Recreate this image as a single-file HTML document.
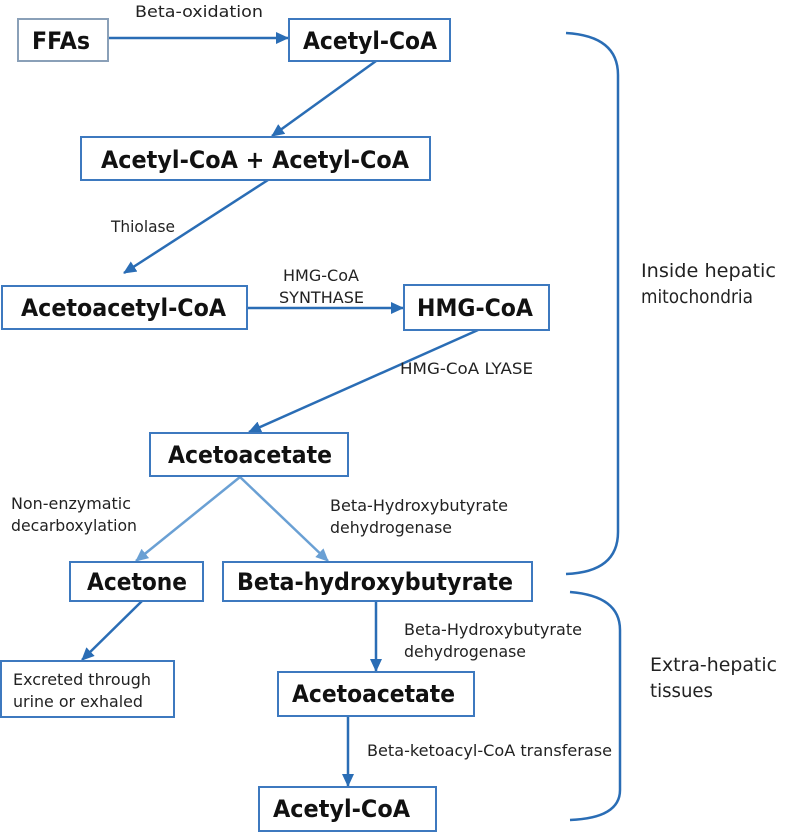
<!DOCTYPE html>
<html><head><meta charset="utf-8"><style>
html,body{margin:0;padding:0;background:#fff;}
svg{display:block;}
.b{font-family:"DejaVu Sans","Liberation Sans",sans-serif;font-weight:bold;font-size:24px;fill:#111;}
.l{font-family:"DejaVu Sans","Liberation Sans",sans-serif;font-size:16px;fill:#222;}
.l2{font-family:"DejaVu Sans","Liberation Sans",sans-serif;font-size:19px;fill:#222;}
rect{fill:#fff;stroke:#3d79bf;stroke-width:2;}
.ln{stroke:#2a6db5;stroke-width:2.5;fill:none;}
.lt{stroke:#6aa0d4;stroke-width:2.5;fill:none;}
</style></head><body>
<svg width="785" height="833" viewBox="0 0 785 833" xmlns="http://www.w3.org/2000/svg">
<defs>
<marker id="a" markerWidth="14" markerHeight="12" refX="12" refY="6" orient="auto" markerUnits="userSpaceOnUse"><path d="M0,0 L13,6 L0,12 z" fill="#2a6db5"/></marker>
<marker id="a2" markerWidth="14" markerHeight="12" refX="12" refY="6" orient="auto" markerUnits="userSpaceOnUse"><path d="M0,0 L13,6 L0,12 z" fill="#6aa0d4"/></marker>
</defs>
<line class="ln" x1="108" y1="38" x2="288" y2="38" marker-end="url(#a)"/>
<line class="ln" x1="376" y1="61" x2="272" y2="136" marker-end="url(#a)"/>
<line class="ln" x1="268" y1="180" x2="124" y2="273" marker-end="url(#a)"/>
<line class="ln" x1="247" y1="308" x2="403" y2="308" marker-end="url(#a)"/>
<line class="ln" x1="478" y1="330" x2="249" y2="432" marker-end="url(#a)"/>
<line class="lt" x1="240" y1="477" x2="136" y2="561" marker-end="url(#a2)"/>
<line class="lt" x1="240" y1="477" x2="328" y2="561" marker-end="url(#a2)"/>
<line class="ln" x1="142" y1="601" x2="82" y2="660" marker-end="url(#a)"/>
<line class="ln" x1="376" y1="601" x2="376" y2="671" marker-end="url(#a)"/>
<line class="ln" x1="348" y1="716" x2="348" y2="786" marker-end="url(#a)"/>
<path class="ln" d="M566,33 Q618,36 618,75 L618,532 Q618,572 566,574" stroke-width="4"/>
<path class="ln" d="M570,592 Q620,596 620,630 L620,790 Q620,818 570,820" stroke-width="4"/>
<rect x="18" y="19" width="90" height="42" style="stroke:#8aa0b8"/>
<text class="b" x="32" y="49" textLength="58" lengthAdjust="spacingAndGlyphs">FFAs</text>
<rect x="289" y="19" width="161" height="42"/>
<text class="b" x="303" y="49" textLength="134" lengthAdjust="spacingAndGlyphs">Acetyl-CoA</text>
<rect x="81" y="137" width="349" height="43"/>
<text class="b" x="101" y="168" textLength="308" lengthAdjust="spacingAndGlyphs">Acetyl-CoA + Acetyl-CoA</text>
<rect x="2" y="286" width="245" height="43"/>
<text class="b" x="21" y="316" textLength="205" lengthAdjust="spacingAndGlyphs">Acetoacetyl-CoA</text>
<rect x="404" y="285" width="145" height="45"/>
<text class="b" x="417" y="316" textLength="116" lengthAdjust="spacingAndGlyphs">HMG-CoA</text>
<rect x="150" y="433" width="198" height="43"/>
<text class="b" x="168" y="463" textLength="164" lengthAdjust="spacingAndGlyphs">Acetoacetate</text>
<rect x="70" y="562" width="133" height="39"/>
<text class="b" x="87" y="590" textLength="100" lengthAdjust="spacingAndGlyphs">Acetone</text>
<rect x="223" y="562" width="309" height="39"/>
<text class="b" x="237" y="590" textLength="276" lengthAdjust="spacingAndGlyphs">Beta-hydroxybutyrate</text>
<rect x="1" y="661" width="173" height="56"/>
<text class="l" x="13" y="685" textLength="138" lengthAdjust="spacingAndGlyphs">Excreted through</text>
<text class="l" x="13" y="707" textLength="130" lengthAdjust="spacingAndGlyphs">urine or exhaled</text>
<rect x="278" y="672" width="196" height="44"/>
<text class="b" x="292" y="702" textLength="163" lengthAdjust="spacingAndGlyphs">Acetoacetate</text>
<rect x="259" y="787" width="177" height="44"/>
<text class="b" x="273" y="817" textLength="137" lengthAdjust="spacingAndGlyphs">Acetyl-CoA</text>
<text class="l" x="135" y="17" textLength="128" lengthAdjust="spacingAndGlyphs">Beta-oxidation</text>
<text class="l" x="111" y="232" textLength="64" lengthAdjust="spacingAndGlyphs">Thiolase</text>
<text class="l" x="283" y="281" textLength="76" lengthAdjust="spacingAndGlyphs">HMG-CoA</text>
<text class="l" x="279" y="303" textLength="85" lengthAdjust="spacingAndGlyphs">SYNTHASE</text>
<text class="l" x="400" y="374" textLength="133" lengthAdjust="spacingAndGlyphs">HMG-CoA LYASE</text>
<text class="l" x="11" y="509" textLength="120" lengthAdjust="spacingAndGlyphs">Non-enzymatic</text>
<text class="l" x="11" y="531" textLength="126" lengthAdjust="spacingAndGlyphs">decarboxylation</text>
<text class="l" x="330" y="511" textLength="178" lengthAdjust="spacingAndGlyphs">Beta-Hydroxybutyrate</text>
<text class="l" x="330" y="533" textLength="122" lengthAdjust="spacingAndGlyphs">dehydrogenase</text>
<text class="l" x="404" y="635" textLength="178" lengthAdjust="spacingAndGlyphs">Beta-Hydroxybutyrate</text>
<text class="l" x="404" y="657" textLength="122" lengthAdjust="spacingAndGlyphs">dehydrogenase</text>
<text class="l" x="367" y="756" textLength="245" lengthAdjust="spacingAndGlyphs">Beta-ketoacyl-CoA transferase</text>
<text class="l2" x="641" y="277" textLength="135" lengthAdjust="spacingAndGlyphs">Inside hepatic</text>
<text class="l2" x="641" y="303" textLength="112" lengthAdjust="spacingAndGlyphs">mitochondria</text>
<text class="l2" x="650" y="671" textLength="127" lengthAdjust="spacingAndGlyphs">Extra-hepatic</text>
<text class="l2" x="650" y="697" textLength="63" lengthAdjust="spacingAndGlyphs">tissues</text>
</svg>
</body></html>
